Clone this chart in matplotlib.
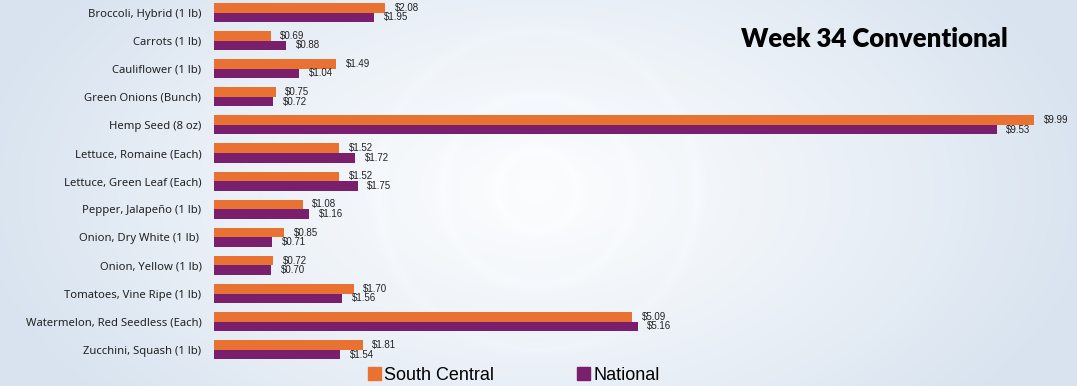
import matplotlib.pyplot as plt
from matplotlib.patches import Patch
import numpy as np

# chart data
categories = [
    "Broccoli, Hybrid (1 lb)",
    "Carrots (1 lb)",
    "Cauliflower (1 lb)",
    "Green Onions (Bunch)",
    "Hemp Seed (8 oz)",
    "Lettuce, Romaine (Each)",
    "Lettuce, Green Leaf (Each)",
    "Pepper, Jalapeño (1 lb)",
    "Onion, Dry White (1 lb) ",
    "Onion, Yellow (1 lb)",
    "Tomatoes, Vine Ripe (1 lb)",
    "Watermelon, Red Seedless (Each)",
    "Zucchini, Squash (1 lb)",
]
south_central = [2.08, 0.69, 1.49, 0.75, 9.99, 1.52, 1.52, 1.08, 0.85, 0.72, 1.70, 5.09, 1.81]
national = [1.95, 0.88, 1.04, 0.72, 9.53, 1.72, 1.75, 1.16, 0.71, 0.70, 1.56, 5.16, 1.54]
series_names = ["South Central", "National"]

ORANGE = "#E97132"
PURPLE = "#7A1E6E"

fig = plt.figure(figsize=(10.77, 3.86), dpi=100)

# soft radial background with a few faint rings
bg = fig.add_axes([0, 0, 1, 1])
yy, xx = np.mgrid[0:386, 0:1077]
r = np.sqrt(((xx - 535) / 560.0) ** 2 + ((yy - 190) / 330.0) ** 2)
t = np.clip(r, 0, 1) ** 1.2
c0 = np.array([0.985, 0.99, 0.995])
c1 = np.array([0.85, 0.893, 0.94])
img = c0[None, None, :] * (1 - t[..., None]) + c1[None, None, :] * t[..., None]
rp = np.sqrt((xx - 537.0) ** 2 + (yy - 190.0) ** 2)
for rad in (40, 95, 160):
    img += 0.008 * np.exp(-((rp - rad) / 6.0) ** 2)[..., None]
img = np.clip(img, 0, 1)
bg.imshow(img, aspect="auto", extent=[0, 1, 0, 1])
bg.axis("off")

ax = fig.add_axes([214 / 1077, 0, 1 - 214 / 1077, 1])
ax.patch.set_alpha(0)

y = np.arange(len(categories))
h = 0.34
b1 = ax.barh(y - h / 2, south_central, height=h, color=ORANGE)
b2 = ax.barh(y + h / 2, national, height=h, color=PURPLE)

ax.bar_label(b1, labels=[f"${v:.2f}" for v in south_central], padding=7,
             fontsize=7, family="Liberation Sans", color="#222222")
ax.bar_label(b2, labels=[f"${v:.2f}" for v in national], padding=7,
             fontsize=7, family="Liberation Sans", color="#222222")

ax.set_xlim(0, 10.51)
ax.set_ylim(13.29, -0.445)
ax.set_yticks(y)
ax.set_yticklabels(categories, fontsize=8.1, family="Noto Sans", color="#222222")
ax.tick_params(axis="y", length=0, pad=9)
ax.set_xticks([])
for s in ax.spines.values():
    s.set_visible(False)

fig.text(0.688, 0.90, "Week 34 Conventional", fontsize=18.5, fontweight="heavy",
         family="Lato", color="black", va="center")

handles = [Patch(color=ORANGE), Patch(color=PURPLE)]
fig.legend(handles, series_names, loc="center left", bbox_to_anchor=(368 / 1077, 0.028),
           ncol=2, frameon=False, prop={"family": "Liberation Sans", "size": 13},
           handlelength=0.7, handleheight=0.7, handletextpad=0.2, columnspacing=4.6,
           borderaxespad=0, borderpad=0)

fig.savefig("out.png", dpi=100)
